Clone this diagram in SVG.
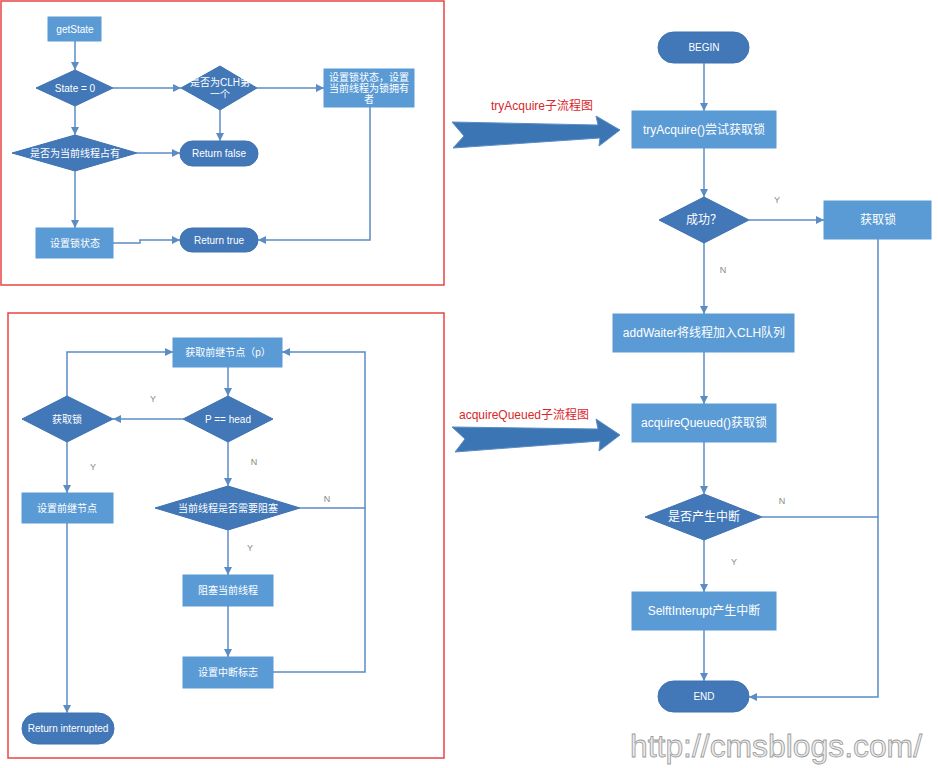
<svg xmlns="http://www.w3.org/2000/svg" width="938" height="768" viewBox="0 0 938 768">
<defs>
<marker id="ah" markerUnits="userSpaceOnUse" markerWidth="9" markerHeight="9" refX="8" refY="4" orient="auto">
<path d="M0,0 L8,4 L0,8 z" fill="#5b8dc4"/>
</marker>
<style>
.rect{fill:#5b9bd5;stroke:#5b9bd5;}
.dk{fill:#4277b8;stroke:#3f72b0;stroke-width:1;}
.t{font-family:"Liberation Sans","Noto Sans CJK SC",sans-serif;fill:#fff;text-anchor:middle;font-size:10px;}
.tb{font-family:"Liberation Sans","Noto Sans CJK SC",sans-serif;fill:#fff;text-anchor:middle;font-size:12px;}
.c path{fill:none;stroke:#5b8dc4;stroke-width:1.5;}
.lb{font-family:"Liberation Sans",sans-serif;fill:#8a8a8a;font-size:9px;text-anchor:middle;}
.frame{fill:none;stroke:#e84545;stroke-width:1.5;}
.red{font-family:"Liberation Sans","Noto Sans CJK SC",sans-serif;fill:#d8262b;font-size:12px;}
.big{fill:#3c75b3;stroke:#5b8dc4;stroke-width:1;}
</style>
</defs>
<rect width="938" height="768" fill="#fff"/>
<rect class="frame" x="1" y="1" width="443" height="284"/>
<rect class="frame" x="8" y="313" width="436" height="445"/>

<g id="getState"><rect class="rect" x="48" y="17" width="53" height="24"/><text class="t" x="75" y="33">getState</text></g>
<g id="state0"><polygon class="dk" points="36,88 75,70 113,88 75,106"/><text class="t" x="75" y="92">State = 0</text></g>
<g id="isCLHFirst"><polygon class="dk" points="181,88 220,66 257,88 220,110"/><text class="t" x="220" y="86">是否为CLH第</text><text class="t" x="220" y="98">一个</text></g>
<g id="setOwner"><rect class="rect" x="324" y="69" width="90" height="38"/><text class="t" x="369" y="81">设置锁状态，设置</text><text class="t" x="369" y="92">当前线程为锁拥有</text><text class="t" x="369" y="103">者</text></g>
<g id="isOwner"><polygon class="dk" points="12,153 75,135 137,153 75,171"/><text class="t" x="75" y="157">是否为当前线程占有</text></g>
<g id="returnFalse"><rect class="dk" x="180" y="141" width="78" height="25" rx="12.5"/><text class="t" x="219" y="157">Return false</text></g>
<g id="setState"><rect class="rect" x="36" y="228" width="77" height="30"/><text class="t" x="75" y="247">设置锁状态</text></g>
<g id="returnTrue"><rect class="dk" x="180" y="228" width="78" height="24" rx="12"/><text class="t" x="219" y="244">Return true</text></g>

<g id="getPred"><rect class="rect" x="173" y="338" width="109" height="29"/><text class="t" x="228" y="356">获取前继节点（p）</text></g>
<g id="pIsHead"><polygon class="dk" points="183,419 228,396 273,419 228,442"/><text class="t" x="228" y="423">P == head</text></g>
<g id="tryLock"><polygon class="dk" points="22,419 67,396 113,419 67,442"/><text class="t" x="67" y="423">获取锁</text></g>
<g id="setPred"><rect class="rect" x="22" y="493" width="91" height="30"/><text class="t" x="67" y="512">设置前继节点</text></g>
<g id="shouldPark"><polygon class="dk" points="155,508 228,486 300,508 228,530"/><text class="t" x="228" y="512">当前线程是否需要阻塞</text></g>
<g id="park"><rect class="rect" x="183" y="575" width="90" height="31"/><text class="t" x="228" y="594">阻塞当前线程</text></g>
<g id="setInterrupt"><rect class="rect" x="183" y="657" width="90" height="31"/><text class="t" x="228" y="676">设置中断标志</text></g>
<g id="returnInterrupted"><rect class="dk" x="22" y="713" width="92" height="31" rx="15.5"/><text class="t" x="68" y="732">Return interrupted</text></g>

<g id="begin"><rect class="dk" x="658" y="32" width="91" height="31" rx="15.5"/><text class="t" x="704" y="51">BEGIN</text></g>
<g id="tryAcquire"><rect class="rect" x="632" y="111" width="144" height="37"/><text class="tb" x="704" y="134">tryAcquire()尝试获取锁</text></g>
<g id="success"><polygon class="dk" points="659,220 704,197 749,220 704,243"/><text class="tb" x="704" y="224">成功？</text></g>
<g id="gotLock"><rect class="rect" x="824" y="201" width="107" height="38"/><text class="tb" x="878" y="224">获取锁</text></g>
<g id="addWaiter"><rect class="rect" x="613" y="314" width="181" height="38"/><text class="tb" x="704" y="337">addWaiter将线程加入CLH队列</text></g>
<g id="acquireQueued"><rect class="rect" x="632" y="404" width="144" height="38"/><text class="tb" x="704" y="427">acquireQueued()获取锁</text></g>
<g id="interrupted"><polygon class="dk" points="645,517 704,494 762,517 704,540"/><text class="tb" x="704" y="521">是否产生中断</text></g>
<g id="selfInterrupt"><rect class="rect" x="632" y="592" width="144" height="38"/><text class="tb" x="704" y="615">SelftInterupt产生中断</text></g>
<g id="end"><rect class="dk" x="658" y="681" width="91" height="31" rx="15.5"/><text class="t" x="704" y="700">END</text></g>

<g id="subflowArrows">
<polygon class="big" points="452,122 598,125 596,116 620,130 599,146 600,138 453,148 464,136"/>
<text class="red" x="542" y="110" text-anchor="middle">tryAcquire子流程图</text>
<polygon class="big" points="452,427 598,429 596,419 620,435 599,451 600,441 455,452 465,439"/>
<text class="red" x="524" y="419" text-anchor="middle">acquireQueued子流程图</text>
</g>

<g class="c" id="connectors">
<path d="M75,41 V70" marker-end="url(#ah)"/>
<path d="M113,88 H181" marker-end="url(#ah)"/>
<path d="M257,88 H324" marker-end="url(#ah)"/>
<path d="M220,110 V141" marker-end="url(#ah)"/>
<path d="M75,106 V135" marker-end="url(#ah)"/>
<path d="M137,153 H180" marker-end="url(#ah)"/>
<path d="M75,171 V228" marker-end="url(#ah)"/>
<path d="M113,243 H140 V240 H180" marker-end="url(#ah)"/>
<path d="M370,107 V240 H258" marker-end="url(#ah)"/>

<path d="M67,396 V352 H173" marker-end="url(#ah)"/>
<path d="M183,419 H113" marker-end="url(#ah)"/>
<path d="M67,442 V493" marker-end="url(#ah)"/>
<path d="M228,367 V396" marker-end="url(#ah)"/>
<path d="M228,442 V486" marker-end="url(#ah)"/>
<path d="M300,508 H365 V352 H282" marker-end="url(#ah)"/>
<path d="M228,530 V575" marker-end="url(#ah)"/>
<path d="M228,606 V657" marker-end="url(#ah)"/>
<path d="M273,672 H365 V508"/>
<path d="M67,523 V713" marker-end="url(#ah)"/>

<path d="M704,63 V111" marker-end="url(#ah)"/>
<path d="M704,148 V197" marker-end="url(#ah)"/>
<path d="M749,220 H824" marker-end="url(#ah)"/>
<path d="M704,243 V314" marker-end="url(#ah)"/>
<path d="M704,352 V404" marker-end="url(#ah)"/>
<path d="M704,442 V494" marker-end="url(#ah)"/>
<path d="M762,517 H878"/>
<path d="M704,540 V592" marker-end="url(#ah)"/>
<path d="M704,630 V681" marker-end="url(#ah)"/>
<path d="M878,239 V697 H749" marker-end="url(#ah)"/>
</g>

<g id="labels">
<text class="lb" x="153" y="402">Y</text>
<text class="lb" x="93" y="470">Y</text>
<text class="lb" x="254" y="465">N</text>
<text class="lb" x="327" y="502">N</text>
<text class="lb" x="250" y="551">Y</text>
<text class="lb" x="777" y="203">Y</text>
<text class="lb" x="723" y="273">N</text>
<text class="lb" x="782" y="504">N</text>
<text class="lb" x="734" y="565">Y</text>
</g>

<text x="630" y="757" textLength="292" lengthAdjust="spacingAndGlyphs" font-family="Liberation Sans, Arial, sans-serif" font-size="31" fill="#ececec" stroke="#9a9a9a" stroke-width="0.8">http://cmsblogs.com/</text>
</svg>
